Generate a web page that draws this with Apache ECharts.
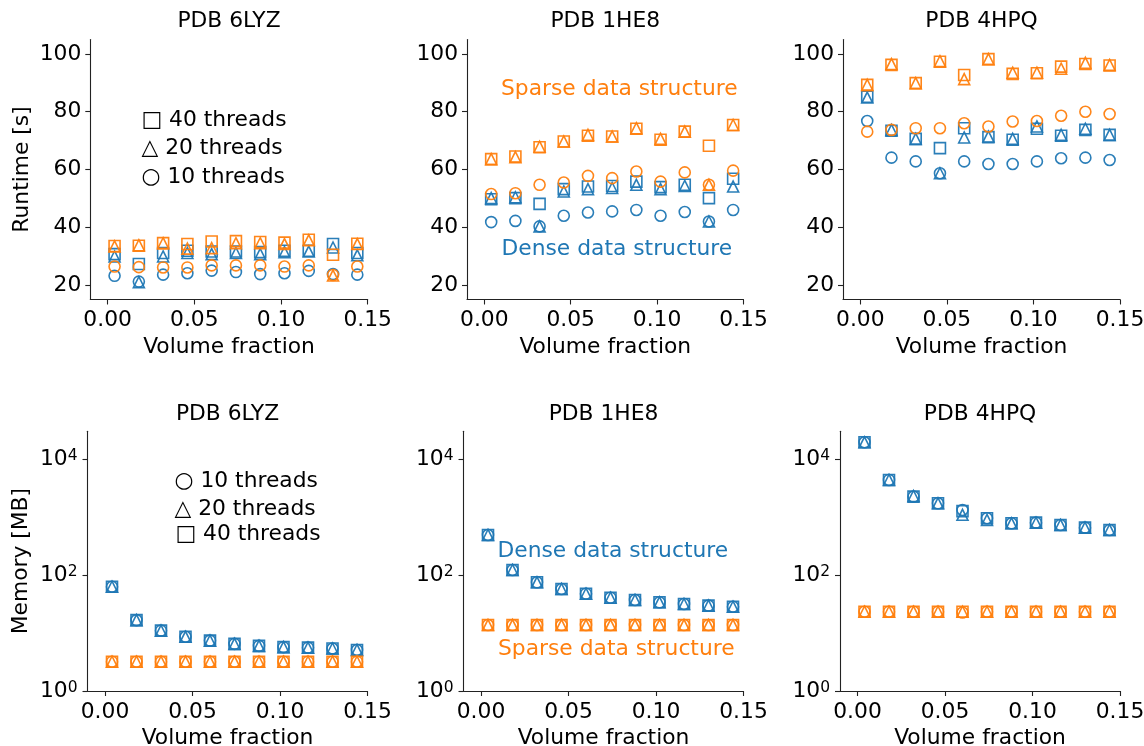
<!DOCTYPE html>
<html><head><meta charset="utf-8">
<script src="https://cdn.jsdelivr.net/npm/echarts@6/dist/echarts.min.js"></script>
<style>html,body{margin:0;padding:0;background:#fff}#chart{width:1144px;height:746px}</style>
</head><body><div id="chart"></div>
<script>
// ---------------- data ----------------
const volumeFraction = [0.004, 0.018, 0.032, 0.046, 0.060, 0.074, 0.088, 0.102, 0.116, 0.130, 0.144];
const xTicks = [0, 0.05, 0.10, 0.15];
const runtimeTicks = [20, 40, 60, 80, 100];
const memoryTicks = [1, 100, 10000];
const panelTitles = ['PDB 6LYZ', 'PDB 1HE8', 'PDB 4HPQ'];

// Runtime [s]
const rt6LYZ_dense10  = [23.2, 21.2, 23.6, 24.1, 25.0, 24.5, 23.8, 24.1, 24.9, 23.8, 23.6];
const rt6LYZ_dense20  = [29.9, 21.0, 29.9, 31.1, 30.7, 31.1, 30.7, 31.4, 31.6, 33.0, 30.3];
const rt6LYZ_dense40  = [30.7, 27.3, 31.1, 31.9, 31.6, 31.6, 31.4, 31.9, 31.9, 34.2, 31.1];
const rt6LYZ_sparse10 = [26.4, 26.2, 26.1, 26.1, 26.8, 26.8, 26.8, 26.4, 26.8, 23.5, 26.4];
const rt6LYZ_sparse20 = [33.4, 33.8, 34.5, 32.6, 32.8, 34.5, 34.5, 34.2, 35.5, 23.3, 34.2];
const rt6LYZ_sparse40 = [33.5, 33.6, 34.5, 34.2, 35.1, 35.2, 34.9, 34.7, 35.7, 30.5, 34.3];

const rt1HE8_dense10  = [41.8, 42.2, 40.3, 44.0, 45.1, 45.5, 46.0, 44.0, 45.3, 42.0, 46.0];
const rt1HE8_dense20  = [50.1, 50.4, 40.3, 52.4, 53.2, 53.6, 54.7, 53.2, 54.3, 42.0, 54.1];
const rt1HE8_dense40  = [49.7, 50.1, 48.1, 53.2, 54.1, 54.3, 55.8, 53.9, 54.7, 50.1, 56.8];
const rt1HE8_sparse10 = [51.5, 51.8, 54.7, 55.5, 57.8, 57.0, 59.3, 55.8, 59.0, 54.7, 59.6];
const rt1HE8_sparse20 = [63.6, 64.3, 67.9, 69.7, 72.0, 71.4, 74.3, 70.6, 73.1, 54.7, 75.4];
const rt1HE8_sparse40 = [63.6, 64.5, 67.7, 69.7, 71.7, 71.4, 74.1, 70.3, 73.1, 68.2, 75.4];

const rt4HPQ_dense10  = [76.8, 64.1, 62.8, 58.7, 62.8, 61.9, 61.9, 62.8, 63.9, 64.1, 63.3];
const rt4HPQ_dense20  = [84.9, 73.7, 70.6, 58.7, 71.1, 71.4, 70.6, 74.9, 72.0, 74.1, 72.0];
const rt4HPQ_dense40  = [85.2, 73.4, 70.6, 67.4, 74.3, 71.2, 70.3, 74.1, 71.7, 73.7, 72.0];
const rt4HPQ_sparse10 = [73.1, 73.7, 74.3, 74.3, 76.0, 74.9, 76.6, 76.8, 78.6, 80.0, 79.2];
const rt4HPQ_sparse20 = [89.3, 96.5, 89.9, 97.5, 91.3, 98.2, 93.5, 93.5, 94.9, 96.9, 96.2];
const rt4HPQ_sparse40 = [89.3, 96.2, 89.9, 97.3, 92.7, 98.2, 93.1, 93.3, 95.6, 96.5, 96.0];

// Memory [MB]
const mem6LYZ_dense10  = [62.8, 16.7, 11.0, 8.6, 7.4, 6.5, 6.0, 5.7, 5.6, 5.4, 5.1];
const mem6LYZ_dense20  = [62.8, 16.7, 11.0, 8.6, 7.4, 6.5, 6.0, 5.7, 5.6, 5.4, 5.1];
const mem6LYZ_dense40  = [62.8, 16.7, 11.0, 8.6, 7.4, 6.5, 6.0, 5.7, 5.6, 5.4, 5.1];
const mem6LYZ_sparse10 = [3.2, 3.2, 3.2, 3.2, 3.2, 3.2, 3.2, 3.2, 3.2, 3.2, 3.2];
const mem6LYZ_sparse20 = [3.2, 3.2, 3.2, 3.2, 3.2, 3.2, 3.2, 3.2, 3.2, 3.2, 3.2];
const mem6LYZ_sparse40 = [3.2, 3.2, 3.2, 3.2, 3.2, 3.2, 3.2, 3.2, 3.2, 3.2, 3.2];

const mem1HE8_dense10  = [490, 122, 74.8, 57.4, 47.6, 40.6, 37.1, 33.8, 31.6, 29.6, 28.4];
const mem1HE8_dense20  = [490, 122, 74.8, 57.4, 47.6, 40.6, 37.1, 33.8, 31.6, 29.6, 28.4];
const mem1HE8_dense40  = [490, 122, 74.8, 57.4, 47.6, 40.6, 37.1, 33.8, 31.6, 29.6, 28.4];
const mem1HE8_sparse10 = [13.7, 13.7, 13.7, 13.7, 13.7, 13.7, 13.7, 13.7, 13.7, 13.7, 13.7];
const mem1HE8_sparse20 = [13.7, 13.7, 13.7, 13.7, 13.7, 13.7, 13.7, 13.7, 13.7, 13.7, 13.7];
const mem1HE8_sparse40 = [13.7, 13.7, 13.7, 13.7, 13.7, 13.7, 13.7, 13.7, 13.7, 13.7, 13.7];

const mem4HPQ_dense10  = [19400, 4350, 2240, 1720, 1320, 950, 778, 798, 728, 655, 597];
const mem4HPQ_dense20  = [19400, 4350, 2300, 1720, 1090, 890, 778, 798, 728, 655, 597];
const mem4HPQ_dense40  = [19400, 4350, 2240, 1720, 1260, 950, 778, 798, 728, 655, 597];
const mem4HPQ_sparse10 = [23.3, 23.3, 23.3, 23.3, 22.5, 23.3, 23.3, 23.3, 23.3, 23.3, 23.3];
const mem4HPQ_sparse20 = [23.3, 23.3, 23.3, 23.3, 23.3, 23.3, 23.3, 23.3, 23.3, 23.3, 23.3];
const mem4HPQ_sparse40 = [23.3, 23.3, 23.3, 23.3, 23.3, 23.3, 23.3, 23.3, 23.3, 23.3, 23.3];

// ---------------- layout / style ----------------
const FONT = 'DejaVu Sans';
const FS = 21.8;
const BLUE = '#1f77b4', ORANGE = '#ff7f0e';
const AXIS_COLOR = '#222';

const grids = [
  {left: 90.3, top: 39.5, width: 277.4, height: 260},
  {left: 467,  top: 39.5, width: 276.5, height: 260},
  {left: 843,  top: 39.5, width: 277,   height: 260},
  {left: 87.5, top: 431.3, width: 280, height: 259.7},
  {left: 463.5, top: 431.3, width: 280, height: 259.7},
  {left: 840,  top: 431.3, width: 280, height: 259.7}
].map(g => Object.assign(g, {outerBoundsMode: 'none', containLabel: false}));

const panelData = [
  [rt6LYZ_dense10, rt6LYZ_dense20, rt6LYZ_dense40, rt6LYZ_sparse10, rt6LYZ_sparse20, rt6LYZ_sparse40],
  [rt1HE8_dense10, rt1HE8_dense20, rt1HE8_dense40, rt1HE8_sparse10, rt1HE8_sparse20, rt1HE8_sparse40],
  [rt4HPQ_dense10, rt4HPQ_dense20, rt4HPQ_dense40, rt4HPQ_sparse10, rt4HPQ_sparse20, rt4HPQ_sparse40],
  [mem6LYZ_dense10, mem6LYZ_dense20, mem6LYZ_dense40, mem6LYZ_sparse10, mem6LYZ_sparse20, mem6LYZ_sparse40],
  [mem1HE8_dense10, mem1HE8_dense20, mem1HE8_dense40, mem1HE8_sparse10, mem1HE8_sparse20, mem1HE8_sparse40],
  [mem4HPQ_dense10, mem4HPQ_dense20, mem4HPQ_dense40, mem4HPQ_sparse10, mem4HPQ_sparse20, mem4HPQ_sparse40]
];
const seriesNames = ['Dense, 10 threads', 'Dense, 20 threads', 'Dense, 40 threads',
                     'Sparse, 10 threads', 'Sparse, 20 threads', 'Sparse, 40 threads'];
const seriesSymbols = ['circle', 'triangle', 'rect', 'circle', 'triangle', 'rect'];
const seriesColors = [BLUE, BLUE, BLUE, ORANGE, ORANGE, ORANGE];

const xAxes = grids.map((g, i) => ({
  gridIndex: i, type: 'value', min: -0.01, max: 0.15,
  name: 'Volume fraction', nameLocation: 'middle', nameGap: 36.5,
  nameTextStyle: {fontFamily: FONT, fontSize: FS, color: '#000'},
  axisLine: {show: true, onZero: false, lineStyle: {color: AXIS_COLOR, width: 1.1}},
  axisTick: {show: true, length: 5, lineStyle: {color: AXIS_COLOR, width: 1.1}, customValues: xTicks},
  axisLabel: {fontFamily: FONT, fontSize: FS, color: '#000', margin: 10,
              customValues: xTicks, formatter: v => v.toFixed(2)},
  splitLine: {show: false}
}));

const yAxes = grids.map((g, i) => {
  const isRuntime = i < 3;
  const base = {
    gridIndex: i,
    axisLine: {show: true, onZero: false, lineStyle: {color: AXIS_COLOR, width: 1.1}},
    splitLine: {show: false},
    nameLocation: 'middle',
    nameTextStyle: {fontFamily: FONT, fontSize: FS, color: '#000'}
  };
  if (isRuntime) {
    return Object.assign(base, {
      type: 'value', min: 15, max: 105,
      name: i === 0 ? 'Runtime [s]' : '', nameGap: 57,
      axisTick: {show: true, length: 5, lineStyle: {color: AXIS_COLOR, width: 1.1}, customValues: runtimeTicks},
      axisLabel: {fontFamily: FONT, fontSize: FS, color: '#000', margin: 9, customValues: runtimeTicks}
    });
  }
  return Object.assign(base, {
    type: 'log', logBase: 10, min: 1, max: 30000,
    name: i === 3 ? 'Memory [MB]' : '', nameGap: 55,
    axisTick: {show: true, length: 5, lineStyle: {color: AXIS_COLOR, width: 1.1}, customValues: memoryTicks},
    axisLabel: {
      margin: 10, customValues: memoryTicks,
      formatter: v => '{b|10}{s|' + Math.round(Math.log10(v)) + '}',
      rich: {
        b: {fontFamily: FONT, fontSize: FS, color: '#000'},
        s: {fontFamily: FONT, fontSize: 15.5, color: '#000', verticalAlign: 'top'}
      }
    }
  });
});

const series = [];
panelData.forEach((arrs, p) => {
  arrs.forEach((vals, k) => {
    series.push({
      type: 'scatter', name: seriesNames[k], xAxisIndex: p, yAxisIndex: p,
      symbol: seriesSymbols[k], symbolSize: 11,
      data: volumeFraction.map((x, j) => [x, vals[j]]),
      itemStyle: {color: 'rgba(0,0,0,0)', borderColor: seriesColors[k], borderWidth: 1.6, opacity: 0.95},
      emphasis: {disabled: true}, clip: false, z: 2 + k
    });
  });
});

const titles = grids.map((g, i) => ({
  text: panelTitles[i % 3],
  left: g.left + g.width / 2, top: (i < 3 ? 21 : 414.5) - FS / 2,
  textAlign: 'center', padding: 0,
  textStyle: {fontFamily: FONT, fontSize: FS, fontWeight: 'normal', color: '#000'}
}));

function txt(s, x, y, color) {
  return {type: 'text', x: x, y: y, silent: true,
          style: {text: s, fill: color, font: FS + 'px "' + FONT + '"', textAlign: 'left', textVerticalAlign: 'middle'}};
}
const graphics = [
  txt('\u25A1 40 threads', 141.5, 120, '#000'),
  txt('\u25B3 20 threads', 141.5, 148, '#000'),
  txt('\u25CB 10 threads', 141.5, 177, '#000'),
  txt('Sparse data structure', 501, 89.8, ORANGE),
  txt('Dense data structure', 501.5, 249.3, BLUE),
  txt('\u25CB 10 threads', 174.5, 481.7, '#000'),
  txt('\u25B3 20 threads', 174.5, 509.2, '#000'),
  txt('\u25A1 40 threads', 175.5, 534.2, '#000'),
  txt('Dense data structure', 497.5, 551.5, BLUE),
  txt('Sparse data structure', 498, 649.5, ORANGE)
];

const chart = echarts.init(document.getElementById('chart'), null, {renderer: 'canvas'});
chart.setOption({
  animation: false,
  backgroundColor: '#fff',
  textStyle: {fontFamily: FONT},
  title: titles,
  grid: grids,
  xAxis: xAxes,
  yAxis: yAxes,
  series: series,
  graphic: graphics
});
</script></body></html>
